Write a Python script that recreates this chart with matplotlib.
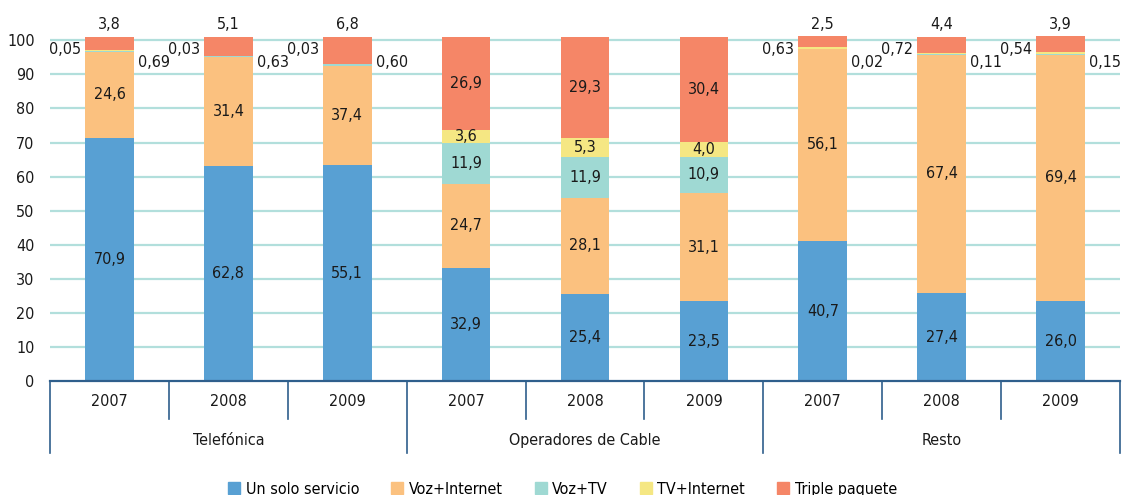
import matplotlib
matplotlib.use("Agg")
import matplotlib.pyplot as plt
from matplotlib.patches import Patch
from matplotlib import font_manager

# buscar una fuente estrecha si la hay
nombres = {(f.name, f.stretch) for f in font_manager.fontManager.ttflist}
if any(n == "Liberation Sans Narrow" for n, s in nombres):
    plt.rcParams['font.family'] = ['Liberation Sans Narrow', 'DejaVu Sans']
    tam = 12.5
elif ("DejaVu Sans", "condensed") in nombres:
    plt.rcParams['font.family'] = ['DejaVu Sans']
    plt.rcParams['font.stretch'] = 'condensed'
    tam = 11.5
else:
    plt.rcParams['font.family'] = ['Liberation Sans', 'DejaVu Sans']
    tam = 11.5

# datos
grupos = ["Telefónica", "Operadores de Cable", "Resto"]
anios = ["2007", "2008", "2009"] * 3
series = ["Un solo servicio", "Voz+Internet", "Voz+TV", "TV+Internet", "Triple paquete"]
colores = ["#58a0d3", "#fbc17f", "#9fd9d3", "#f5e783", "#f58667"]

# altura de cada tramo tal y como aparece dibujado
un_solo = [71.4, 63.2, 63.4, 33.3, 25.6, 23.5, 41.1, 25.9, 23.5]
voz_internet = [25.3, 31.8, 29.1, 24.6, 28.2, 31.7, 56.4, 69.9, 72.3]
voz_tv = [0.3, 0.5, 0.6, 12.1, 12.0, 10.6, 0.02, 0.11, 0.15]
tv_internet = [0.05, 0.03, 0.03, 3.7, 5.6, 4.5, 0.5, 0.5, 0.5]
triple = [4.0, 5.55, 7.95, 27.4, 29.7, 30.8, 3.1, 4.7, 4.7]

# valores rotulados
et_un_solo = [70.9, 62.8, 55.1, 32.9, 25.4, 23.5, 40.7, 27.4, 26.0]
et_voz_internet = [24.6, 31.4, 37.4, 24.7, 28.1, 31.1, 56.1, 67.4, 69.4]
et_voz_tv = [0.69, 0.63, 0.60, 11.9, 11.9, 10.9, 0.02, 0.11, 0.15]
et_tv_internet = [0.05, 0.03, 0.03, 3.6, 5.3, 4.0, 0.63, 0.72, 0.54]
et_triple = [3.8, 5.1, 6.8, 26.9, 29.3, 30.4, 2.5, 4.4, 3.9]

alturas = [un_solo, voz_internet, voz_tv, tv_internet, triple]
etiquetas = [et_un_solo, et_voz_internet, et_voz_tv, et_tv_internet, et_triple]


def fmt(v):
    if v < 1:
        return f"{v:.2f}".replace(".", ",")
    return f"{v:.1f}".replace(".", ",")


fig = plt.figure(figsize=(11.25, 4.95), dpi=100)
ax = fig.add_axes([50/1125, 0.2297, 1070/1125, 0.7578])

x = list(range(len(anios)))
ancho = 0.41
base = [0.0] * len(x)
for k in range(5):
    ax.bar(x, alturas[k], ancho, bottom=base, color=colores[k], zorder=3)
    for i in x:
        h = alturas[k][i]
        v = etiquetas[k][i]
        if k == 4 and v < 10:
            # encima de la barra
            ax.annotate(fmt(v), (i, base[i] + h), xytext=(0, 8.5), textcoords="offset points",
                        ha="center", va="center", fontsize=tam, color="#1a1a1a")
        elif k in (2, 3) and v < 1:
            pass
        else:
            ax.text(i, base[i] + h / 2, fmt(v), ha="center", va="center", fontsize=tam,
                    color="#1a1a1a", zorder=4)
        base[i] += h

# rótulos pequeños: TV+Internet a la izquierda, Voz+TV a la derecha
for i in x:
    if et_tv_internet[i] < 1:
        ax.annotate(fmt(et_tv_internet[i]), (i - ancho / 2, 97.3), xytext=(-3, 0),
                    textcoords="offset points", ha="right", va="center", fontsize=tam, color="#1a1a1a")
    if et_voz_tv[i] < 1:
        ax.annotate(fmt(et_voz_tv[i]), (i + ancho / 2, 93.6), xytext=(3, 0),
                    textcoords="offset points", ha="left", va="center", fontsize=tam, color="#1a1a1a")

ax.set_xlim(-0.5, 8.5)
ax.set_ylim(0, 110)
ax.set_yticks(range(0, 101, 10))
ax.tick_params(axis="y", length=0, pad=11, labelsize=tam, labelcolor="#1a1a1a")
ax.set_xticks([])
for y in range(10, 101, 10):
    ax.axhline(y, color="#b2dfdc", lw=1.6, zorder=1)
for s in ["top", "right", "left"]:
    ax.spines[s].set_visible(False)
ax.spines["bottom"].set_color("#2f5f8c")
ax.spines["bottom"].set_linewidth(1.6)
ax.spines["bottom"].set_zorder(5)

azul = "#2f5f8c"
tr = ax.get_xaxis_transform()
for b in [0.5, 1.5, 3.5, 4.5, 6.5, 7.5]:
    ax.plot([b, b], [0, -0.1005], color=azul, lw=1.2, transform=tr, clip_on=False)
for b in [-0.5, 2.5, 5.5, 8.5]:
    ax.plot([b, b], [0, -0.191], color=azul, lw=1.2, transform=tr, clip_on=False)
for i in x:
    ax.text(i, -0.055, anios[i], transform=tr, ha="center", va="center", fontsize=tam, color="#1a1a1a")
for g in range(3):
    ax.text(3 * g + 1, -0.158, grupos[g], transform=tr, ha="center", va="center", fontsize=tam,
            color="#1a1a1a")

manejadores = [Patch(color=c) for c in colores]
fig.legend(manejadores, series, loc="center", bbox_to_anchor=(0.5, 0.012), ncol=5, frameon=False,
           fontsize=tam, handlelength=0.75, handleheight=0.75, handletextpad=0.35, columnspacing=2.0)

fig.savefig("out.png", dpi=100)
